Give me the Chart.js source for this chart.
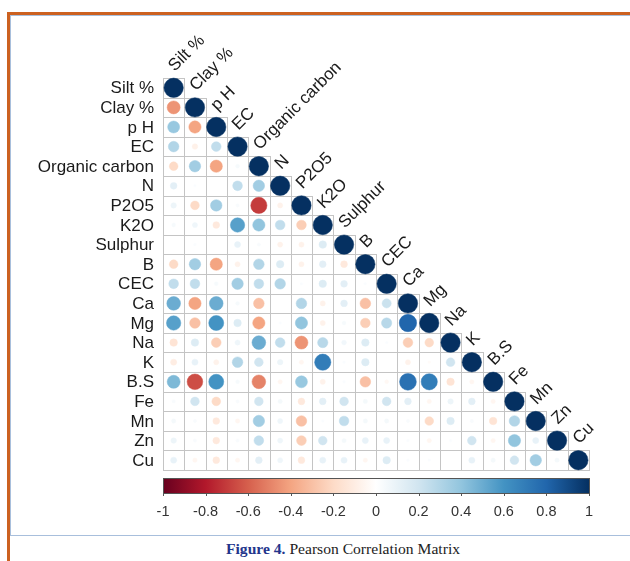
<!DOCTYPE html>
<html lang="en">
<head>
    <meta charset="UTF-8">
    <title>Pearson Correlation Matrix</title>
    <script src="https://cdn.jsdelivr.net/npm/chart.js"></script>
    <style>
        body {
            margin: 0;
            width: 630px;
            height: 561px;
            background: #fff;
            position: relative;
            overflow: hidden;
        }
        .orange-left {
            position: absolute; left: 7px; top: 12px; width: 3px; height: 549px;
            background: #cc6120;
        }
        .orange-top {
            position: absolute; left: 7px; top: 12px; width: 623px; height: 3px;
            background: #cc6120;
        }
        .panel {
            position: absolute; left: 10px; top: 15px; width: 630px; height: 519px;
            border-left: 1px solid #a8bfdc;
            border-top: 1px solid #a8bfdc;
            border-bottom: 1px solid #a8bfdc;
            background: #fff;
        }
        #wrap {
            position: absolute; left: 0; top: 0; width: 630px; height: 535px;
        }
        .caption {
            position: absolute; left: 226px; top: 540px;
            font-family: "Liberation Serif", "DejaVu Serif", serif;
            font-size: 15.6px;
            color: #222;
            white-space: nowrap;
        }
        .caption b { color: #23358c; }
    </style>
</head>
<body>
    <div class="panel"></div>
    <div class="orange-left"></div>
    <div class="orange-top"></div>
    <div id="wrap"><canvas id="corr"></canvas></div>
    <div class="caption"><b>Figure 4.</b> Pearson Correlation Matrix</div>

    <script>
        // variables (rows / columns of the matrix)
        const vars = ['Silt %', 'Clay %', 'p H', 'EC', 'Organic carbon', 'N', 'P2O5', 'K2O', 'Sulphur', 'B',
                      'CEC', 'Ca', 'Mg', 'Na', 'K', 'B.S', 'Fe', 'Mn', 'Zn', 'Cu'];

        // lower triangle, one array per row (columns 0 .. row-1), diagonal is 1
        const rClay    = [-0.45];
        const rPH      = [0.38, -0.4];
        const rEC      = [0.3, -0.08, 0.25];
        const rOC      = [-0.2, 0.35, -0.4, 0.04];
        const rN       = [0.12, 0.02, 0, 0.25, 0.35];
        const rP2O5    = [0.08, -0.2, 0.35, 0.03, -0.7, -0.07];
        const rK2O     = [0.04, 0.07, -0.12, 0.55, 0.4, 0.25, -0.25];
        const rSulphur = [0, 0.02, 0, 0.1, 0.03, -0.07, -0.07, 0.15];
        const rB       = [-0.2, 0.35, -0.4, -0.07, 0.3, 0.15, -0.07, 0.12, -0.12];
        const rCEC     = [0.25, 0.25, 0.04, 0.35, 0.25, 0.3, 0.02, 0.15, 0.12, 0.02];
        const rCa      = [0.5, -0.4, 0.5, 0.04, -0.3, 0, 0.3, -0.07, 0.12, -0.3, 0.22];
        const rMg      = [0.55, -0.3, 0.6, 0.15, -0.4, 0.02, 0.4, -0.07, 0.04, -0.25, 0.28, 0.8];
        const rNa      = [-0.15, 0.15, -0.25, 0.07, 0.5, 0.25, -0.45, 0.28, 0.06, 0.15, 0.02, -0.25, -0.2];
        const rK       = [-0.1, 0.1, -0.07, 0.3, 0.2, 0.08, -0.05, 0.7, 0.02, 0.15, 0, -0.07, -0.02, 0.2];
        const rBS      = [0.45, -0.65, 0.6, 0.04, -0.5, -0.05, 0.38, -0.07, 0.02, -0.3, -0.04, 0.75, 0.7, -0.15, -0.05];
        const rFe      = [0.03, 0.2, -0.2, 0.03, 0.2, 0.05, -0.12, 0.12, 0.2, 0.05, 0.2, 0.12, -0.05, 0.08, 0.12, -0.05];
        const rMn      = [0.05, 0.03, -0.12, -0.05, 0.35, 0.07, -0.3, 0.02, 0.25, 0.05, 0.05, 0.03, -0.2, 0.15, 0.03, -0.15, 0.3];
        const rZn      = [0.08, 0.03, -0.12, 0.03, 0.25, 0.07, -0.25, 0.2, 0.05, 0.1, 0.1, 0.02, -0.05, 0.02, 0.2, -0.05, 0.4, 0.1];
        const rCu      = [0.1, -0.05, -0.12, -0.05, 0.12, 0.07, -0.12, 0.1, 0.1, -0.05, 0.15, 0.02, 0.02, 0, 0.1, 0.05, 0.2, 0.35, 0.05];

        const lowerRows = [[], rClay, rPH, rEC, rOC, rN, rP2O5, rK2O, rSulphur, rB, rCEC,
                           rCa, rMg, rNa, rK, rBS, rFe, rMn, rZn, rCu];

        // colour bar ticks
        const barTicks = [-1, -0.8, -0.6, -0.4, -0.2, 0, 0.2, 0.4, 0.6, 0.8, 1];

        // RdBu palette (corrplot COL2)
        const palette = ['#67001F', '#B2182B', '#D6604D', '#F4A582', '#FDDBC7', '#FFFFFF',
                         '#D1E5F0', '#92C5DE', '#4393C3', '#2166AC', '#053061'];

        function hexToRgb(h) {
            return [parseInt(h.slice(1, 3), 16), parseInt(h.slice(3, 5), 16), parseInt(h.slice(5, 7), 16)];
        }
        function corrColor(v) {
            const t = (Math.max(-1, Math.min(1, v)) + 1) / 2 * (palette.length - 1);
            const i = Math.min(Math.floor(t), palette.length - 2);
            const f = t - i;
            const a = hexToRgb(palette[i]), b = hexToRgb(palette[i + 1]);
            const c = a.map((x, k) => Math.round(x + (b[k] - x) * f));
            return 'rgb(' + c.join(',') + ')';
        }

        // build points
        const points = [];
        lowerRows.forEach((row, i) => {
            row.forEach((v, j) => points.push({ x: j, y: i, v: v }));
            points.push({ x: i, y: i, v: 1 });
        });

        const n = vars.length;
        const labelFont = '17px "Liberation Sans", Arial, sans-serif';
        const maxRadius = 9.7; // radius of a |r| = 1 circle, px (cell is ~21 x 19.6)

        const corrPlugin = {
            id: 'corrPlot',
            beforeDatasetsDraw(chart) {
                const ctx = chart.ctx, xs = chart.scales.x, ys = chart.scales.y;
                ctx.save();
                ctx.strokeStyle = '#c4c4c4';
                ctx.lineWidth = 1;
                for (let i = 0; i < n; i++) {
                    for (let j = 0; j <= i; j++) {
                        const x0 = Math.round(xs.getPixelForValue(j - 0.5)) + 0.5;
                        const x1 = Math.round(xs.getPixelForValue(j + 0.5)) + 0.5;
                        const y0 = Math.round(ys.getPixelForValue(i - 0.5)) + 0.5;
                        const y1 = Math.round(ys.getPixelForValue(i + 0.5)) + 0.5;
                        ctx.strokeRect(x0, y0, x1 - x0, y1 - y0);
                    }
                }
                ctx.restore();
            },
            afterDraw(chart) {
                const ctx = chart.ctx, xs = chart.scales.x, ys = chart.scales.y;
                ctx.save();
                ctx.font = labelFont;
                ctx.fillStyle = '#1a1a1a';

                // row labels
                ctx.textAlign = 'right';
                ctx.textBaseline = 'middle';
                vars.forEach((name, i) => {
                    ctx.fillText(name, xs.getPixelForValue(-0.5) - 9, ys.getPixelForValue(i) + 1);
                });

                // column labels, rotated 45 degrees above the diagonal
                ctx.textAlign = 'left';
                ctx.textBaseline = 'alphabetic';
                vars.forEach((name, j) => {
                    ctx.save();
                    ctx.translate(xs.getPixelForValue(j) + 1, ys.getPixelForValue(j - 0.5) - 6);
                    ctx.rotate(-Math.PI / 4);
                    ctx.fillText(name, 0, 0);
                    ctx.restore();
                });

                // colour bar
                const toBar = v => xs.getPixelForValue(-0.5 + (v + 1) / 2 * n);
                const bx0 = toBar(-1), bx1 = toBar(1);
                const by0 = 478, by1 = 493;
                const grad = ctx.createLinearGradient(bx0, 0, bx1, 0);
                palette.forEach((c, k) => grad.addColorStop(k / (palette.length - 1), c));
                ctx.fillStyle = grad;
                ctx.fillRect(bx0, by0, bx1 - bx0, by1 - by0);
                ctx.strokeStyle = '#555';
                ctx.lineWidth = 1;
                ctx.strokeRect(Math.round(bx0) + 0.5, by0 + 0.5, Math.round(bx1 - bx0), by1 - by0);

                ctx.font = '14.5px "Liberation Sans", Arial, sans-serif';
                ctx.fillStyle = '#333';
                ctx.textAlign = 'center';
                ctx.textBaseline = 'middle';
                barTicks.forEach(t => {
                    const x = Math.round(toBar(t)) + 0.5;
                    ctx.beginPath();
                    ctx.moveTo(x, by1);
                    ctx.lineTo(x, by1 + 3);
                    ctx.stroke();
                    ctx.fillText(String(t), toBar(t), 512);
                });
                ctx.restore();
            }
        };

        const valueOf = c => (c.raw && typeof c.raw.v === 'number') ? c.raw.v : 0;

        new Chart(document.getElementById('corr'), {
            type: 'bubble',
            data: {
                datasets: [{
                    data: points,
                    backgroundColor: c => corrColor(valueOf(c)),
                    borderColor: c => corrColor(valueOf(c)),
                    borderWidth: 0.5,
                    // bubble radius is read at parse time, so it cannot depend on the scales
                    radius: c => Math.sqrt(Math.abs(valueOf(c))) * maxRadius,
                    hoverRadius: 0,
                    clip: false
                }]
            },
            options: {
                responsive: true,
                maintainAspectRatio: false,
                animation: false,
                events: [],
                layout: { padding: { left: 163, right: 41, top: 78, bottom: 65 } },
                scales: {
                    x: { type: 'linear', min: -0.5, max: n - 0.5, display: false },
                    y: { type: 'linear', min: -0.5, max: n - 0.5, reverse: true, display: false }
                },
                plugins: {
                    legend: { display: false },
                    tooltip: { enabled: false }
                }
            },
            plugins: [corrPlugin]
        });
    </script>
</body>
</html>
